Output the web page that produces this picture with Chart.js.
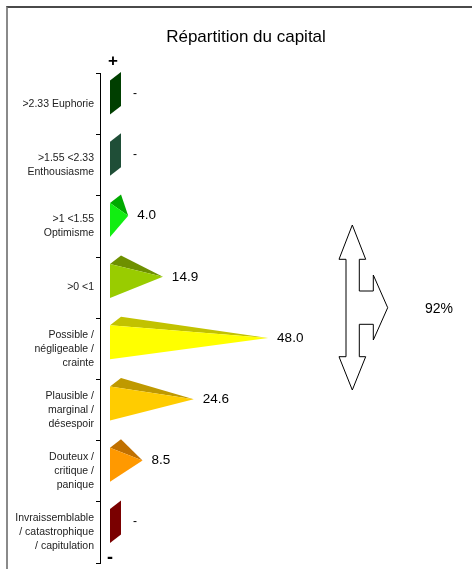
<!DOCTYPE html>
<html>
<head>
<meta charset="utf-8">
<script src="https://cdn.jsdelivr.net/npm/chart.js"></script>
<style>
html, body { margin: 0; padding: 0; background: #fff; }
#wrap { position: relative; width: 472px; height: 569px; overflow: hidden; }
#frame { position: absolute; left: 6px; top: 6px; width: 480px; height: 580px;
         border-top: 2px solid #4a4a4a; border-left: 2px solid #8a8a8a; }
canvas { position: absolute; left: 0; top: 0; }
</style>
</head>
<body>
<div id="wrap">
  <div id="frame"></div>
  <canvas id="myChart" width="472" height="569"></canvas>
</div>
<script>
var myLabels = [
    '>2.33 Euphorie',
    ['>1.55 <2.33', 'Enthousiasme'],
    ['>1 <1.55', 'Optimisme'],
    '>0 <1',
    ['Possible /', 'négligeable /', 'crainte'],
    ['Plausible /', 'marginal /', 'désespoir'],
    ['Douteux /', 'critique /', 'panique'],
    ['Invraissemblable', '/ catastrophique', '/ capitulation']
];
var myValues = [0, 0, 4.0, 14.9, 48.0, 24.6, 8.5, 0];
var totalLabel = '92%';

// couleurs face avant / face du dessus
var frontColors = ['#003f00', '#1f4e37', '#11ee11', '#99cc00', '#ffff00', '#ffcc00', '#ff9900', '#7a0000'];
var topColors   = ['#003f00', '#1f4e37', '#00aa00', '#6e9000', '#c2c200', '#bf9900', '#c07000', '#7a0000'];

var GAP = 10;    // decalage entre l'axe et la base des barres
var DX = 11;     // profondeur 3D
var DY = -8.5;
var LIFT = 6.5;

function poly(ctx, pts, color) {
    ctx.beginPath();
    ctx.moveTo(pts[0][0], pts[0][1]);
    for (var k = 1; k < pts.length; k++) ctx.lineTo(pts[k][0], pts[k][1]);
    ctx.closePath();
    ctx.fillStyle = color;
    ctx.fill();
}

function geom(bar) {
    var x0 = bar.base + GAP;
    var yT = bar.y - LIFT - bar.height / 2;
    var yB = yT + bar.height;
    var len = bar.x - bar.base;
    return {x0: x0, yT: yT, yB: yB, len: len,
            ax: x0 + len + DX / 2, ay: (yT + yB) / 2 + DY / 2};
}

var pyramids = {
    id: 'pyramids',
    beforeDatasetsDraw: function(chart) {
        var ctx = chart.ctx;
        var meta = chart.getDatasetMeta(0);
        ctx.save();
        meta.data.forEach(function(bar, i) {
            var g = geom(bar);
            if (g.len < 0.5) {
                poly(ctx, [[g.x0, g.yT], [g.x0 + DX, g.yT + DY], [g.x0 + DX, g.yB + DY], [g.x0, g.yB]], frontColors[i]);
            } else {
                poly(ctx, [[g.x0, g.yT], [g.x0 + DX, g.yT + DY], [g.ax, g.ay]], topColors[i]);
                poly(ctx, [[g.x0, g.yT], [g.x0, g.yB], [g.ax, g.ay]], frontColors[i]);
            }
        });
        ctx.restore();
        return false;
    },
    afterDraw: function(chart) {
        var ctx = chart.ctx;
        var area = chart.chartArea;
        var meta = chart.getDatasetMeta(0);
        ctx.save();
        ctx.fillStyle = '#000';
        ctx.textBaseline = 'middle';
        ctx.textAlign = 'left';
        meta.data.forEach(function(bar, i) {
            var g = geom(bar);
            var v = myValues[i];
            if (v > 0) {
                ctx.font = '13.5px "Liberation Sans", Arial, sans-serif';
                ctx.fillText(v.toFixed(1), g.ax + 9, g.ay);
            } else {
                ctx.font = '12px "Liberation Sans", Arial, sans-serif';
                ctx.fillText('-', g.x0 + DX + 12, g.ay);
            }
        });

        // + et - le long de l'axe
        ctx.textAlign = 'center';
        ctx.font = 'bold 17px "Liberation Sans", Arial, sans-serif';
        ctx.fillText('+', area.left + 13, area.top - 12);
        ctx.font = 'bold 18px "Liberation Sans", Arial, sans-serif';
        ctx.fillText('-', area.left + 10, area.bottom - 5);

        // double fleche
        var arrow = [[359.3, 259.3], [359.3, 291], [373.3, 291], [373.3, 275], [387.7, 307.7],
                     [373.3, 340], [373.3, 324.3], [359.3, 324.3], [359.3, 356.7], [365.7, 356.7],
                     [352.3, 390], [339, 356.7], [346, 356.7], [346, 259.3], [339, 259.3],
                     [352.3, 225], [365.7, 259.3]];
        ctx.beginPath();
        ctx.moveTo(arrow[0][0], arrow[0][1]);
        for (var k = 1; k < arrow.length; k++) ctx.lineTo(arrow[k][0], arrow[k][1]);
        ctx.closePath();
        ctx.fillStyle = '#fff';
        ctx.fill();
        ctx.strokeStyle = '#000';
        ctx.lineWidth = 1;
        ctx.stroke();

        ctx.fillStyle = '#000';
        ctx.font = '14px "Liberation Sans", Arial, sans-serif';
        ctx.fillText(totalLabel, 439, 309);
        ctx.restore();
    }
};

Chart.defaults.font.family = '"Liberation Sans", Arial, sans-serif';
Chart.defaults.color = '#222';

config = {
    type: 'bar',
    data: {
        labels: myLabels,
        datasets: [{
            label: 'Répartition du capital',
            data: myValues,
            backgroundColor: frontColors,
            categoryPercentage: 1,
            barPercentage: 0.555
        }]
    },
    options: {
        indexAxis: 'y',
        responsive: false,
        animation: false,
        layout: {
            padding: {left: 0, right: -20, top: 0, bottom: 6}
        },
        plugins: {
            legend: {display: false},
            tooltip: {enabled: false},
            title: {
                display: true,
                text: 'Répartition du capital',
                color: '#000',
                font: {size: 17, weight: 'normal'},
                padding: {top: 27, bottom: 26}
            }
        },
        scales: {
            x: {
                display: false,
                min: 0,
                max: 117
            },
            y: {
                afterFit: function(scale) {
                    scale.width = 100;
                    scale.paddingTop = 0;
                    scale.paddingBottom = 0;
                },
                border: {display: true, color: '#000', width: 1},
                grid: {
                    display: true,
                    drawOnChartArea: false,
                    drawTicks: true,
                    tickLength: 4,
                    color: '#000',
                    offset: true
                },
                ticks: {
                    crossAlign: 'near',
                    padding: 2,
                    color: '#222',
                    font: {size: 10.5, lineHeight: 1.33}
                }
            }
        }
    },
    plugins: [pyramids]
};

const ctx = document.getElementById('myChart');
const myChart = new Chart(ctx, config);
</script>
</body>
</html>
